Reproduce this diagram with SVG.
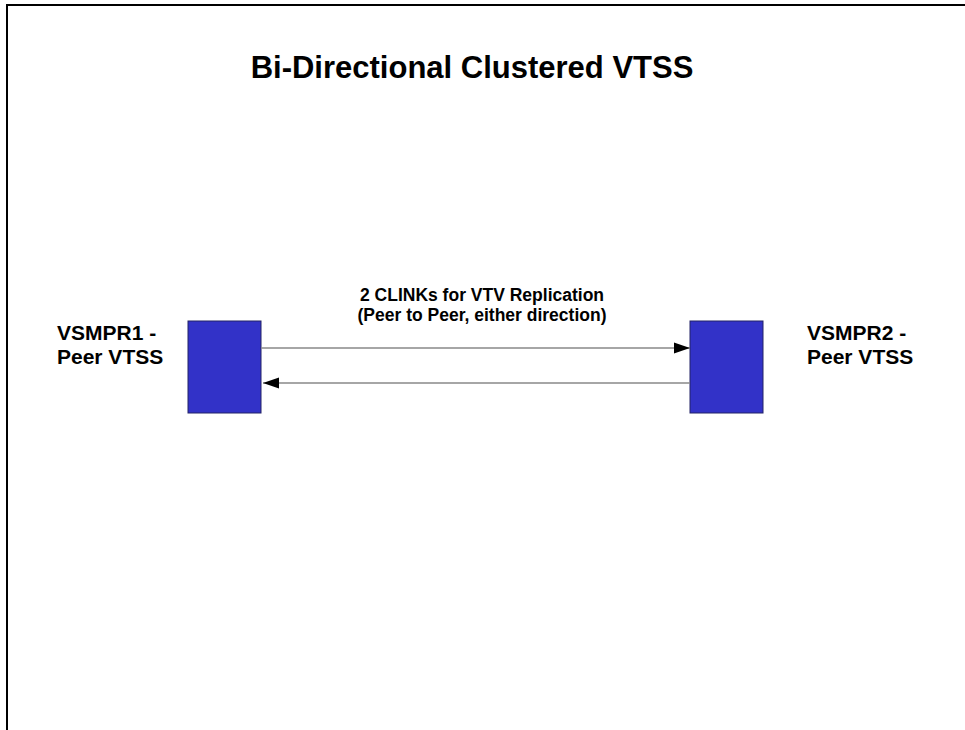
<svg xmlns="http://www.w3.org/2000/svg" width="965" height="730" viewBox="0 0 965 730">
<style>
text{font-family:"Liberation Sans",Arial,sans-serif;font-weight:bold;fill:#000}
.box{fill:#3232C8;stroke:#222266;stroke-width:1}
.link{stroke:#888;stroke-width:1.5;fill:none}
.lbl{font-size:21px}
.mid{font-size:17.5px;text-anchor:middle}
</style>
<rect width="965" height="730" fill="#fff"/>
<rect x="7" y="5" width="980" height="750" fill="none" stroke="#000" stroke-width="2"/>
<text x="472" y="78" font-size="31" text-anchor="middle">Bi-Directional Clustered VTSS</text>
<g id="vsmpr1">
<rect class="box" x="188" y="321" width="73" height="92"/>
<text class="lbl" x="57" y="340">VSMPR1 -</text>
<text class="lbl" x="57" y="364">Peer VTSS</text>
</g>
<g id="vsmpr2">
<rect class="box" x="690" y="321" width="73" height="92"/>
<text class="lbl" x="807" y="340">VSMPR2 -</text>
<text class="lbl" x="807" y="364">Peer VTSS</text>
</g>
<g id="connectors">
<line class="link" x1="261" y1="348" x2="690" y2="348"/>
<line class="link" x1="690" y1="383" x2="263" y2="383"/>
<path d="M690,348 L674,342.5 L674,353.5 z" fill="#000"/>
<path d="M263,383 L279,377.5 L279,388.5 z" fill="#000"/>
<text class="mid" x="482" y="301">2 CLINKs for VTV Replication</text>
<text class="mid" x="482" y="321">(Peer to Peer, either direction)</text>
</g>
</svg>
